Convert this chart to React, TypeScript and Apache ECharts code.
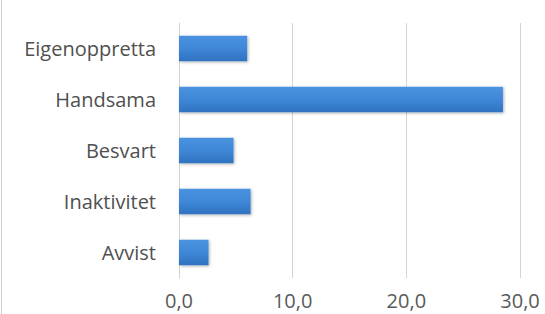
import React, { useEffect, useRef } from "react";
import * as echarts from "echarts";

const categories = ["Eigenoppretta", "Handsama", "Besvart", "Inaktivitet", "Avvist"];
const values = [6.0, 28.5, 4.8, 6.3, 2.6];
const xTicks = [0, 10, 20, 30];

export default function App() {
  const ref = useRef<HTMLDivElement>(null);
  useEffect(() => {
    if (!ref.current) return;
    const chart = echarts.init(ref.current, undefined, { renderer: "svg" });
    chart.setOption({
      animation: false,
      backgroundColor: "#ffffff",
      grid: { left: 179, right: 25, top: 23, bottom: 36, containLabel: false },
      xAxis: {
        type: "value",
        min: xTicks[0],
        max: xTicks[xTicks.length - 1],
        interval: 10,
        axisLine: { show: false },
        axisTick: { show: false },
        splitLine: { show: true, lineStyle: { color: "#d4d4d4", width: 1 } },
        axisLabel: {
          formatter: (v: number) => v.toFixed(1).replace(".", ","),
          color: "#595959",
          fontFamily: "Open Sans",
          fontSize: 20,
          margin: 12,
        },
      },
      yAxis: {
        type: "category",
        data: categories.slice().reverse(),
        axisLine: { show: true, lineStyle: { color: "#d4d4d4" } },
        axisTick: { show: false },
        axisLabel: {
          color: "#505050",
          fontFamily: "Open Sans",
          fontSize: 20,
          margin: 23,
        },
      },
      series: [
        {
          type: "bar",
          data: values.slice().reverse(),
          barWidth: "50%",
          itemStyle: {
            color: new echarts.graphic.LinearGradient(0, 0, 0, 1, [
              { offset: 0, color: "#4a93e0" },
              { offset: 0.5, color: "#3f87d8" },
              { offset: 1, color: "#2f72c0" },
            ]),
            shadowColor: "rgba(0,0,0,0.3)",
            shadowBlur: 3,
            shadowOffsetX: 1,
            shadowOffsetY: 1,
          },
        },
      ],
      graphic: [
        {
          type: "line",
          shape: { x1: 1.5, y1: 0, x2: 1.5, y2: 314 },
          style: { stroke: "#d0d0d0", lineWidth: 1 },
        },
      ],
    });
    return () => chart.dispose();
  }, []);
  return (
    <div
      ref={ref}
      style={{ position: "fixed", left: 0, top: 0, width: 545, height: 314 }}
    />
  );
}
